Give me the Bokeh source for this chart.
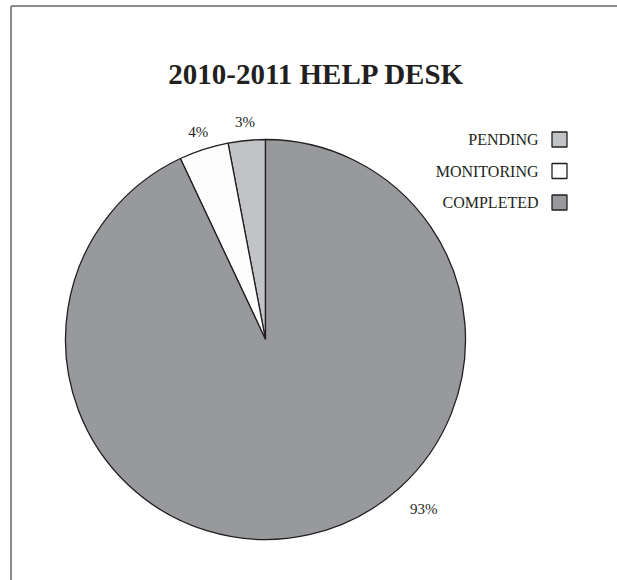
import math
from bokeh.plotting import figure
from bokeh.models import Range1d, ColumnDataSource
from bokeh.core.properties import value
from bokeh.embed import file_html
from bokeh.resources import INLINE

# ---- data ----
title_text = "2010-2011 HELP DESK"
categories = ["PENDING", "MONITORING", "COMPLETED"]
percents = [3, 4, 93]
colors = ["#c2c3c6", "#fdfdfd", "#98999c"]

W, H = 617, 580
FONT = "Liberation Serif"
INK = "#231f20"

# data units == screen pixels (y measured upward from the bottom)
p = figure(width=W, height=H, output_backend="svg", toolbar_location=None,
           x_range=Range1d(0, W), y_range=Range1d(0, H),
           min_border=0, outline_line_color=None)
p.xaxis.visible = False
p.yaxis.visible = False
p.xgrid.visible = False
p.ygrid.visible = False
p.background_fill_color = "white"
p.border_fill_color = "white"

# frame: only the top and left edges fall inside the window
p.segment(x0=[10.5, 10.5], y0=[H - 5.5, H - 5.5], x1=[W, 10.5], y1=[H - 5.5, 0],
          line_color="#8c8c8c", line_width=2)

# pie
cx, cy, r = 265, H - 339, 200
total = sum(percents)
starts, ends = [], []
a = math.pi / 2
for v in percents:
    starts.append(a)
    a += v / total * 2 * math.pi
    ends.append(a)
src = ColumnDataSource(dict(cat=categories, start=starts, end=ends, color=colors))
p.wedge(x=cx, y=cy, radius=r, start_angle="start", end_angle="end", fill_color="color",
        line_color=INK, line_width=1.3, direction="anticlock", source=src)

# value labels
lab_angle = [(s + e) / 2 for s, e in zip(starts, ends)]
lab_angle[2] = math.radians(-47)
lab_r = [218, 218, 232]
lx = [cx + rr * math.cos(t) for rr, t in zip(lab_r, lab_angle)]
ly = [cy + rr * math.sin(t) for rr, t in zip(lab_r, lab_angle)]
p.text(x=lx, y=ly, text=[f"{v}%" for v in percents], text_font=value(FONT),
       text_font_size="15px", text_color=INK, text_align="center", text_baseline="middle")

# title
p.text(x=[316], y=[H - 73], text=[title_text], text_font=value(FONT), text_font_size="29px",
       text_font_style="bold", text_color=INK, text_align="center", text_baseline="middle")

# legend
ley = [H - 139, H - 170.5, H - 202]
p.text(x=[538] * 3, y=ley, text=categories, text_font=value(FONT), text_font_size="16px",
       text_color=INK, text_align="right", text_baseline="middle")
p.rect(x=[559] * 3, y=ley, width=15, height=15, fill_color=colors, line_color=INK, line_width=1.3)

open("out.html", "w").write(file_html(p, INLINE))
